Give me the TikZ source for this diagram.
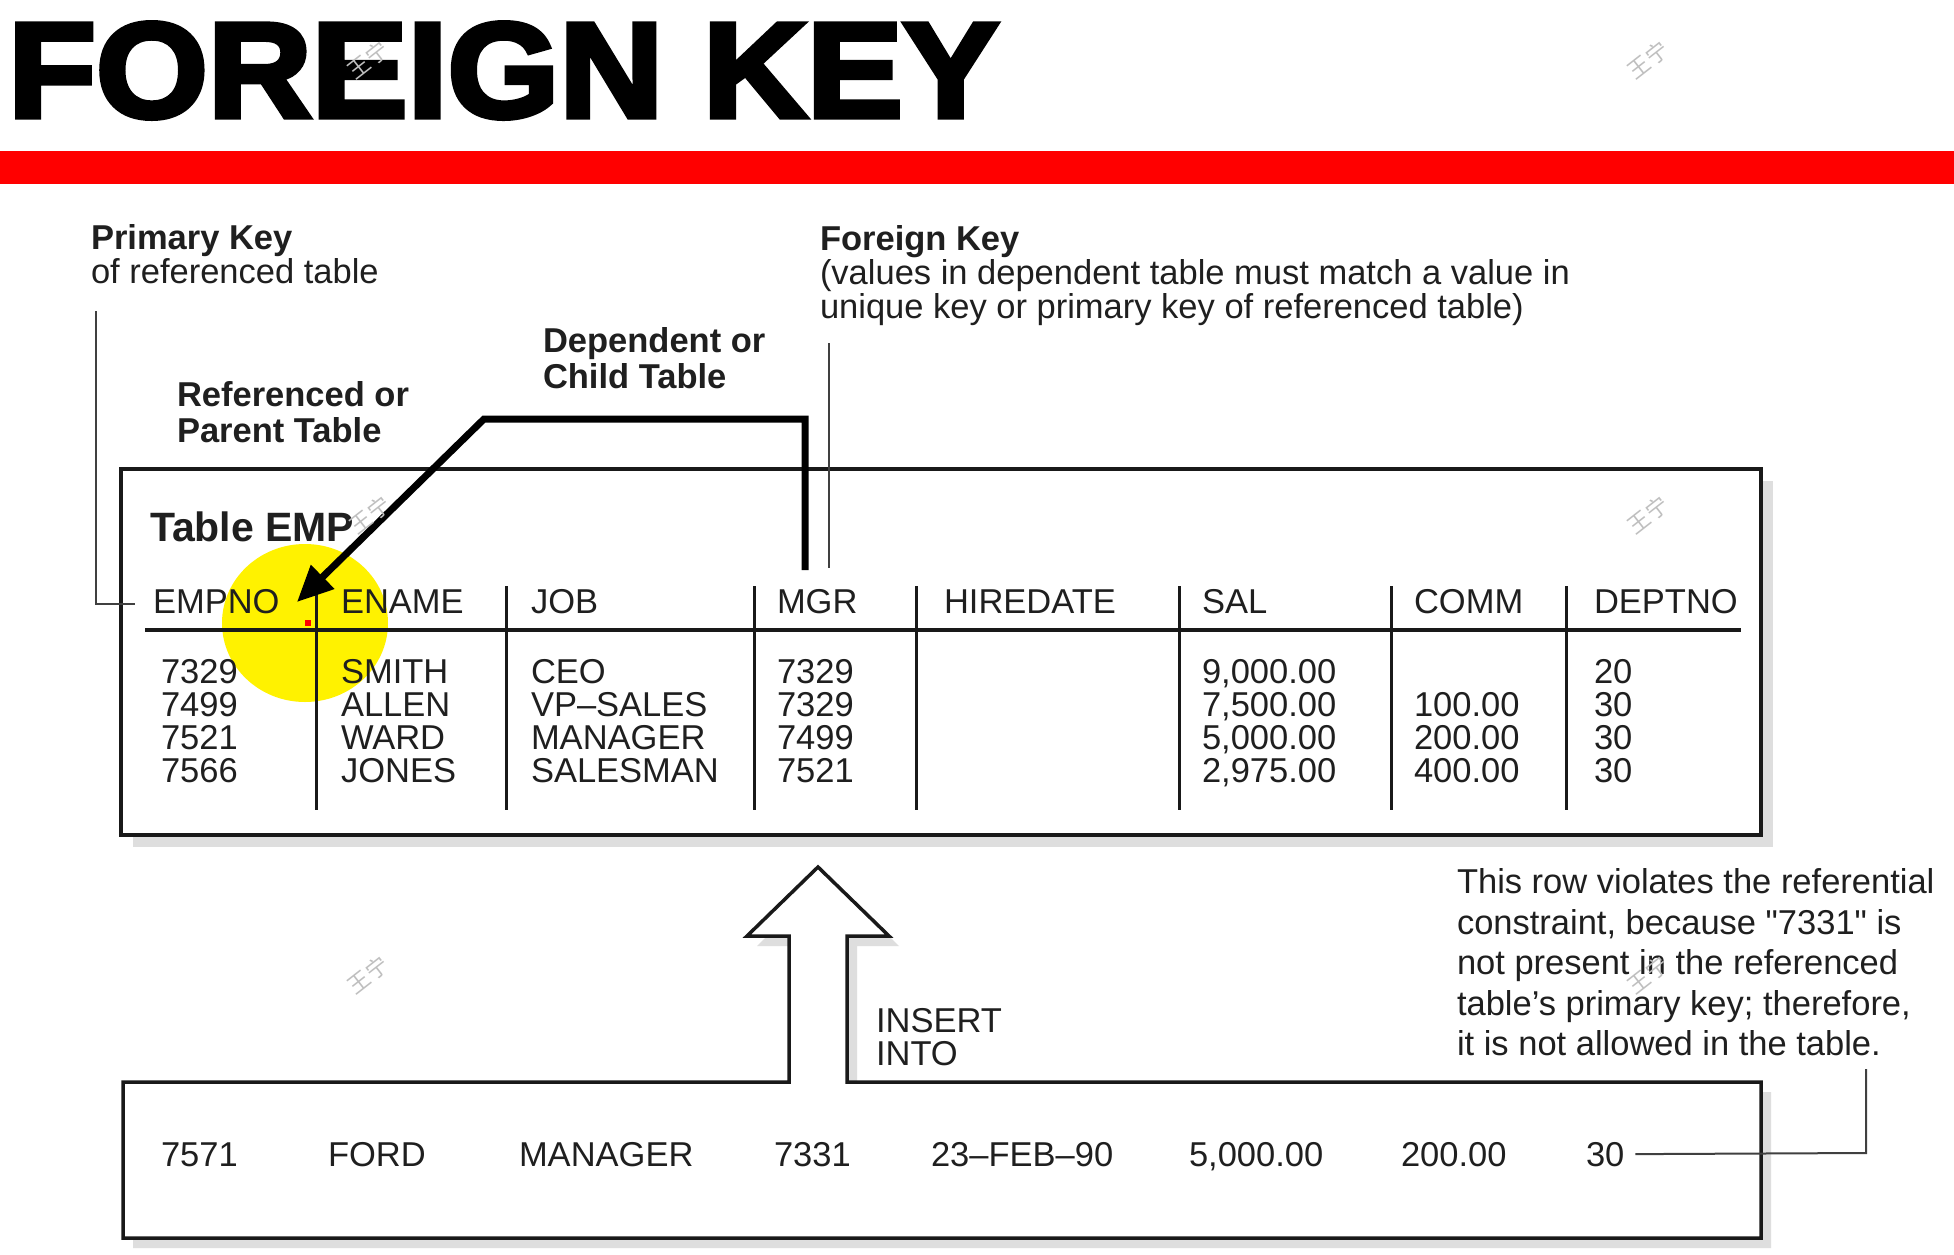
\documentclass[tikz,border=0pt]{standalone}
\usepackage{fontspec}
\setmainfont{Liberation Sans}
\newfontfamily\titlefam[BoldFeatures={FakeBold=4,FakeStretch=1.065}]{Liberation Sans}
\newfontfamily\rawfam[Ligatures=ResetAll]{Liberation Sans}
\newfontfamily\cjkfam{Noto Sans CJK SC}
\usetikzlibrary{arrows.meta}
\newcommand\myfs{\fontsize{34.5}{34.5}\selectfont}
\newcommand\myttl{\titlefam\bfseries\fontsize{135}{135}\selectfont}
\newcommand\mytab{\fontsize{41}{41}\selectfont}
\tikzset{
  txt/.style={anchor=base west, inner sep=0pt, outer sep=0pt, font=\myfs, text=black!88},
  btxt/.style={txt, font=\myfs\bfseries},
  leader/.style={line width=2pt, draw=black!75},
  frame/.style={line width=3.5pt, draw=black!90, fill=white, line join=miter},
  shadowc/.style={fill=black!13},
  colsep/.style={line width=3pt, draw=black!90},
  bigarrow/.style={line width=7pt, draw=black, line join=miter, -{Triangle[length=36pt,width=32pt]}},
  wm/.style={font=\cjkfam\fontsize{22}{22}\selectfont, text=black!25, rotate=38, inner sep=0pt}
}
\begin{document}
\begin{tikzpicture}[x=1pt,y=-1pt]
\useasboundingbox (0,0) rectangle (1954,1255);
\fill[white] (0,0) rectangle (1954,1255);

% title and red bar
\node[anchor=base west, inner sep=0pt, font=\myttl] (title) at (8,117) {FOREIGN KEY};
\fill[red] (0,151) rectangle (1954,184);

% upper labels
\node[btxt] (pk1) at (91,249) {Primary Key};
\node[txt]  (pk2) at (91,283) {of referenced table};
\node[btxt] (rp1) at (177,406) {Referenced or};
\node[btxt] (rp2) at (177,442) {Parent Table};
\node[btxt] (dc1) at (543,352) {Dependent or};
\node[btxt] (dc2) at (543,388) {Child Table};
\node[btxt] (fk1) at (820,250) {Foreign Key};
\node[txt]  (fk2) at (820,284) {(values in dependent table must match a value in};
\node[txt]  (fk3) at (820,318) {unique key or primary key of referenced table)};

% main table box
\fill[shadowc] (133,481) rectangle (1773,847);
\draw[frame] (121,469) rectangle (1761,835);
\fill[yellow] (305,623) ellipse [x radius=83, y radius=79];
\node[txt, font=\mytab\bfseries] (temp) at (150,541) {Table EMP};

% header rule and column separators
\coordinate (ruleL) at (145,630);
\coordinate (ruleR) at (1741,630);
\draw[line width=4.5pt, draw=black!90] (ruleL) -- (ruleR);
\foreach \sx [count=\i] in {316,506,754,916,1179,1391,1566} {
  \coordinate (sepT\i) at (\sx,586);
  \coordinate (sepB\i) at (\sx,810);
  \draw[colsep] (sepT\i) -- (sepB\i);
}

% headers
\foreach \hx/\htxt [count=\i] in {153/EMPNO,341/ENAME,531/JOB,777/MGR,944/HIREDATE,1202/SAL,1414/COMM,1594/DEPTNO}
  \node[txt] (h\i) at (\hx,613) {\htxt};

% data
\foreach \val [count=\r] in {7329,7499,7521,7566}
  \node[txt] (emp\r) at (161,{683+33*(\r-1)}) {\val};
\foreach \val [count=\r] in {SMITH,ALLEN,WARD,JONES}
  \node[txt] (ena\r) at (341,{683+33*(\r-1)}) {\val};
\foreach \val [count=\r] in {CEO,VP–SALES,MANAGER,SALESMAN}
  \node[txt] (job\r) at (531,{683+33*(\r-1)}) {\val};
\foreach \val [count=\r] in {7329,7329,7499,7521}
  \node[txt] (mgr\r) at (777,{683+33*(\r-1)}) {\val};
\foreach \val [count=\r] in {{9,000.00},{7,500.00},{5,000.00},{2,975.00}}
  \node[txt] (sal\r) at (1202,{683+33*(\r-1)}) {\val};
\foreach \val [count=\r] in {100.00,200.00,400.00}
  \node[txt] (com\r) at (1414,{716+33*(\r-1)}) {\val};
\foreach \val [count=\r] in {20,30,30,30}
  \node[txt] (dep\r) at (1594,{683+33*(\r-1)}) {\val};

% red cursor dot
\fill[red] (305,620) rectangle (311,626);

% leaders
\coordinate (pkA) at (96,311);
\coordinate (pkB) at (96,604);
\coordinate (pkC) at (135,604);
\draw[leader] (pkA) -- (pkB) -- (pkC);
\coordinate (fkA) at (829,343);
\coordinate (fkB) at (829,568);
\draw[leader] (fkA) -- (fkB);

% thick arrow from MGR to EMPNO
\coordinate (mgrTop) at (805,570);
\coordinate (bendA) at (805,419);
\coordinate (bendB) at (484,419);
\coordinate (empTip) at (297,602);
\draw[bigarrow] (mgrTop) -- (bendA) -- (bendB) -- (empTip);

% bottom box with insert arrow
\def\bottomshape{(123,1082) -- (789,1082) -- (789,936) -- (747,936) -- (818,867) -- (889,936) -- (847,936) -- (847,1082) -- (1761,1082) -- (1761,1238) -- (123,1238) -- cycle}
\fill[shadowc, shift={(10,10)}] \bottomshape;
\draw[frame] \bottomshape;

\node[txt] (ins1) at (876,1032) {INSERT};
\node[txt] (ins2) at (876,1065) {INTO};

\foreach \bx/\btxt [count=\i] in {161/7571,328/FORD,519/MANAGER,774/7331,931/23–FEB–90,1189/{5,000.00},1401/200.00,1586/30}
  \node[txt] (b\i) at (\bx,1166) {\btxt};

% note
\node[txt] (n1) at (1457,893) {This row violates the referential};
\node[txt] (n2) at (1457,934) {constraint, because {\rawfam"}7331{\rawfam"} is};
\node[txt] (n3) at (1457,974) {not present in the referenced};
\node[txt] (n4) at (1457,1015) {table’s primary key; therefore,};
\node[txt] (n5) at (1457,1055) {it is not allowed in the table.};
\coordinate (l30b) at (1866,1153);
\coordinate (l30c) at (1866,1069);
\draw[leader] ([xshift=11pt]b8.east) -- (l30b) -- (l30c);

% watermarks
\foreach \wx/\wy [count=\i] in {368/60,1648/60,370/515,1648/515,368/975,1648/975}
  \node[wm] (wm\i) at (\wx,\wy) {王宁};
\end{tikzpicture}
\end{document}
